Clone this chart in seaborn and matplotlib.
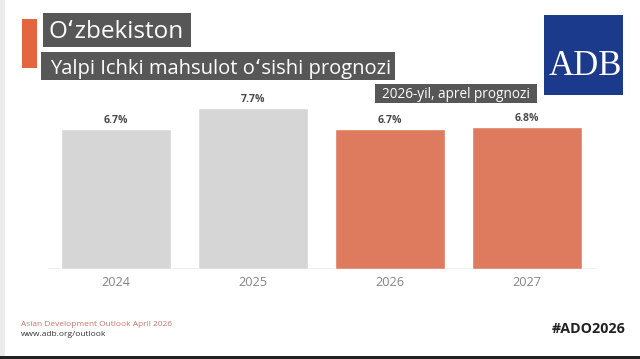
import matplotlib
matplotlib.use("Agg")
import matplotlib.pyplot as plt
from matplotlib.patches import Rectangle
import seaborn as sns
import pandas as pd

years = ["2024", "2025", "2026", "2027"]
gdp_growth = [6.7, 7.7, 6.7, 6.8]
value_labels = ["6.7%", "7.7%", "6.7%", "6.8%"]
bar_colors = ["#d6d6d6", "#d6d6d6", "#de7b5e", "#de7b5e"]

country = "Oʻzbekiston"
subtitle = "Yalpi Ichki mahsulot oʻsishi prognozi"
forecast_note = "2026-yil, aprel prognozi"
source_line1 = "Asian Development Outlook April 2026"
source_line2 = "www.adb.org/outlook"
hashtag = "#ADO2026"

sns.set_theme(style="white")
plt.rcParams["font.family"] = ["Open Sans", "DejaVu Sans"]

W, H = 640, 359
fig = plt.figure(figsize=(W / 100, H / 100), dpi=100)
fig.patch.set_facecolor("white")


def fx(px):
    return px / W


def fy(py):
    return 1 - py / H


def box(x0, y0, x1, y1, color):
    fig.patches.append(Rectangle((fx(x0), fy(y1)), fx(x1) - fx(x0), fy(y0) - fy(y1),
                                 transform=fig.transFigure, facecolor=color,
                                 edgecolor="none", zorder=1))


df = pd.DataFrame({"year": years, "growth": gdp_growth})

# plot area: baseline at y=269px, 9 units ~ 187.6px
ax = fig.add_axes([fx(47.5), fy(269), fx(595.5) - fx(47.5), fy(81.4) - fy(269)])
sns.barplot(data=df, x="year", y="growth", hue="year", palette=bar_colors,
            width=0.8, legend=False, ax=ax, saturation=1)
ax.set_xlim(-0.5, 3.5)
ax.set_ylim(0, 9)
ax.axhline(0, color="#ececec", lw=1.2, zorder=0)
for s in ax.spines.values():
    s.set_visible(False)
ax.set_yticks([])
ax.set_xlabel("")
ax.set_ylabel("")
ax.tick_params(axis="x", length=0, pad=5, labelsize=9.2, labelcolor="#858585")
ax.patch.set_alpha(0)

for i, v in enumerate(gdp_growth):
    ax.annotate(value_labels[i], (i, v), xytext=(0, 2.5), textcoords="offset points",
                ha="center", va="bottom", fontsize=7.6, fontweight="bold", color="#4a4a4a")

# title blocks
box(22, 19, 37, 68, "#e4663f")
box(43, 13, 191, 47, "#575757")
fig.text(fx(48), fy(38.5), country, fontsize=17.5, color="white", va="baseline", ha="left", zorder=2)
box(41, 52, 395, 80, "#575757")
fig.text(fx(50), fy(74), subtitle, fontsize=14.5, color="white", va="baseline", ha="left", zorder=2)
box(375, 84, 537, 103, "#575757")
fig.text(fx(456), fy(97.5), forecast_note, fontsize=9.8, color="white", va="baseline", ha="center", zorder=2)

# logo
box(544, 15, 623, 95, "#1c3a8c")
fig.text(fx(585), fy(75), "ADB", fontsize=25, color="white", family="Liberation Serif",
         va="baseline", ha="center", zorder=2)

# footer
box(0, 0, 5, 356, "#ececec")
box(0, 356, 640, 359, "#222222")
fig.text(fx(21), fy(324), source_line1, fontsize=6, color="#c9756a", va="center", ha="left")
fig.text(fx(21), fy(335), source_line2, fontsize=6, color="#333333", va="center", ha="left")
fig.text(fx(626), fy(329), hashtag, fontsize=10.3, fontweight="bold", color="#222222",
         va="center", ha="right")

fig.savefig("out.png", dpi=100, facecolor=fig.get_facecolor())
